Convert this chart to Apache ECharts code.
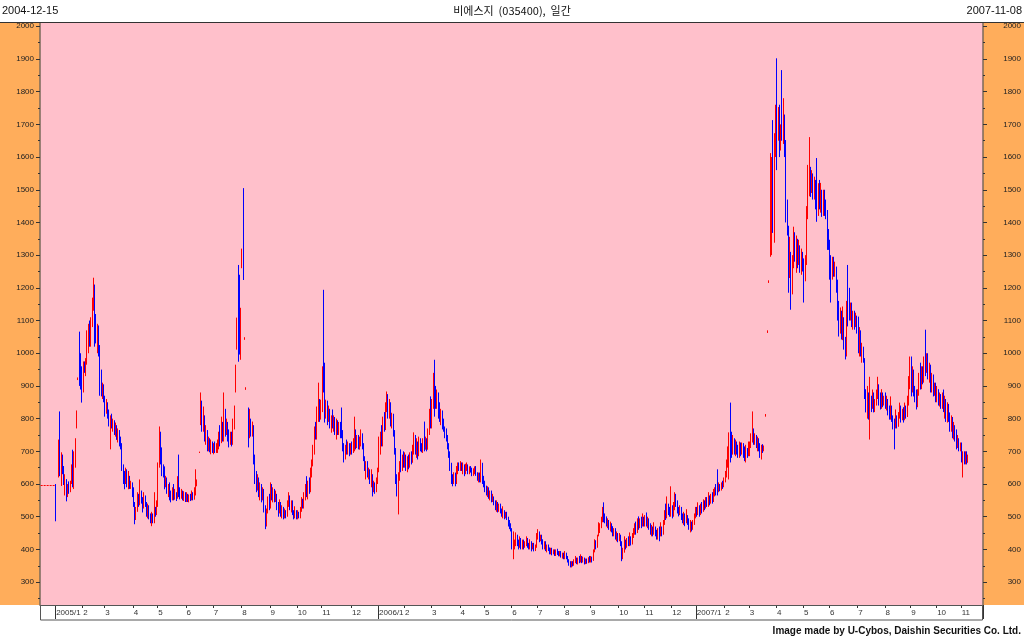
<!DOCTYPE html>
<html><head><meta charset="utf-8">
<script src="https://cdn.jsdelivr.net/npm/echarts@6/dist/echarts.min.js"></script>
<style>html,body{margin:0;padding:0;background:#fff}#c{width:1024px;height:638px}</style>
</head><body><div id="c"></div>
<script>
const chartTitle = '비에스지  (035400),  일간';
const startDate = '2004-12-15';
const endDate = '2007-11-08';
const credit = 'Image made by U-Cybos, Daishin Securities Co. Ltd.';
const basePrice = 595;

// y-axis tick values
const yMajor = [300,400,500,600,700,800,900,1000,1100,1200,1300,1400,1500,1600,1700,1800,1900,2000];
const yMinor = [250,350,450,550,650,750,850,950,1050,1150,1250,1350,1450,1550,1650,1750,1850,1950];

// month labels (first label empty = Dec 2004, before listing)
const monthLabels = ['', '2005/1','2','3','4','5','6','7','8','9','10','11','12',
  '2006/1','2','3','4','5','6','7','8','9','10','11','12',
  '2007/1','2','3','4','5','6','7','8','9','10','11'];

// daily candles: [open, close, low, high]; null = no trade
const dec04 = [null,null,null,null,null,null,null,null,null,null,null,null];
const jan05 = [[597,525,486,600],null,[625,657,620,736],[684,650,624,822],[620,690,594,697],[685,640,630,690],[640,600,597,655],[600,615,565,630],[610,575,547,615],[575,595,560,600],[595,580,570,608],[580,600,575,610],[605,654,600,660],[700,600,590,705],[600,660,585,700],[666,736,650,740],[775,820,770,825],[920,922,918,926],[975,950,900,1066],[970,950,889,1000],[950,900,849,960]];
const feb05 = [[900,960,880,975],[960,950,940,975],[945,975,930,985],[975,1030,965,1070],[1030,1080,1000,1090],[1080,1040,1020,1100],[1040,1100,1020,1110],[1100,1150,1080,1170],[1150,1200,1130,1231],[1200,1100,1020,1210],[1100,1060,1030,1120],[1060,1080,1000,1090],[1080,1020,990,1085],[1020,940,870,1025],[940,880,868,950],[880,900,860,910],[900,860,850,905]];
const mar05 = [[860,830,806,870],[830,845,815,860],[845,810,800,850],[810,790,776,828],[790,800,706,810],[800,780,770,815],[780,790,760,800],[790,760,750,795],[760,775,745,788],[775,750,735,780],[750,760,727,770],[760,730,715,765],[730,720,706,745],[720,650,640,725],[650,630,600,660],[630,610,584,640],[610,635,600,650],[635,600,590,645],[600,620,584,640],[620,595,585,625],[595,600,585,610],[600,580,560,605]];
const apr05 = [[580,540,530,590],[540,500,477,545],[500,520,490,530],[520,560,515,575],[560,540,530,570],[540,575,535,614],[575,550,540,580],[550,530,513,560],[530,560,525,575],[560,540,530,565],[540,510,500,545],[510,530,495,540],[530,500,492,535],[500,490,480,510],[490,505,471,515],[505,490,480,510],[490,520,480,575],[520,510,500,530],[510,540,505,550]];
const may05 = [[540,660,530,666],[660,740,650,776],[740,680,660,760],[680,650,624,712],[650,630,620,660],[630,600,584,654],[600,615,590,625],[615,580,570,620],[580,590,560,600],[590,570,550,605],[570,560,544,580],[560,580,550,590],[580,565,550,600],[565,570,552,585],[570,560,548,575],[560,600,555,624],[600,580,560,690],[580,560,553,590],[560,575,555,585],[575,560,550,580],[560,570,548,578],[570,555,545,575]];
const jun05 = [[555,565,545,575],[565,550,545,570],[550,560,544,568],[560,555,548,570],[555,570,550,580],[570,560,550,575],[560,575,552,590],[575,600,565,645],[600,610,593,614],null,[696,697,695,699],[790,860,780,880],[850,780,760,855],[780,800,760,837],[800,750,730,810],[750,760,720,780],[760,720,700,765],[720,730,700,745],[730,710,697,740],[710,720,691,736],[720,705,695,730]];
const jul05 = [[705,715,691,725],[715,700,695,730],[700,712,695,725],[700,720,695,736],[720,740,706,760],[740,730,715,780],[730,770,725,806],[770,740,730,790],[740,800,730,880],[800,760,745,830],[760,780,750,800],[780,740,730,790],[740,730,712,767],[730,750,720,760],[750,725,715,760],[725,780,720,800],[780,837,767,840],[880,965,880,965],[1011,1109,1011,1109],[1240,1000,974,1270],[1100,1020,996,1240],[980,1130,980,1139]];
const aug05 = [[1264,1310,1260,1320],[1320,1224,1224,1505],[1043,1045,1041,1049],[890,892,888,896],null,[800,760,712,834],[760,790,740,830],[790,760,745,800],[760,770,745,791],[770,680,660,780],[680,620,600,690],[620,600,575,640],[600,610,580,630],[610,580,560,620],[580,595,550,605],[595,570,544,600],[570,580,550,590],[580,530,513,585],[530,500,462,535],[500,520,470,525],[520,560,510,562],[560,530,520,570]];
const sep05 = [[530,580,525,605],[580,560,550,600],[560,575,544,590],[575,550,544,585],[550,565,545,580],[565,530,520,570],[530,520,500,545],[520,540,510,553],[540,510,500,545],[510,525,495,535],[525,500,492,530],[500,515,495,525],[515,505,495,520],[505,540,500,550],[540,560,530,575],[560,530,520,565],[530,545,513,550],[545,510,505,550],[510,500,492,520],[500,515,495,532],[515,500,492,520]];
const oct05 = [[500,510,492,520],[510,500,495,515],[500,520,495,530],[520,545,515,560],[545,530,525,555],[530,560,525,575],[560,590,550,600],[590,570,560,624],[570,600,553,610],[600,580,570,620],[580,630,575,650],[630,660,620,675],[660,700,654,720],[700,760,690,776],[760,740,736,790],[740,800,736,837],[800,850,790,910],[850,800,790,860],[800,830,797,858]];
const nov05 = [[830,950,820,960],[960,900,880,1194],[920,830,788,971],[830,850,800,858],[850,800,780,855],[800,820,790,840],[820,790,770,830],[790,800,757,810],[800,780,770,828],[780,800,760,810],[800,770,750,805],[770,790,736,800],[790,760,750,795],[760,780,750,790],[780,750,740,790],[800,760,740,834],[760,720,700,765],[720,680,666,725],[680,710,675,720],[710,700,690,736],[700,720,690,730],[720,700,685,725],[700,715,690,725]];
const dec05 = [[715,700,690,730],[700,730,695,740],[730,740,700,806],[740,720,706,767],[720,740,710,750],[740,710,706,750],[710,730,705,745],[730,745,715,767],[745,720,706,755],[720,680,670,725],[680,650,640,685],[650,660,614,670],[660,630,620,670],[630,640,614,650],[640,610,600,645],[610,625,590,645],[625,590,562,630],[590,600,575,610],[600,580,570,605],[580,610,575,620],[610,640,600,650]];
const jan06 = [[640,700,636,745],[700,740,690,760],[740,720,715,780],[720,790,715,806],[790,770,760,820],[770,830,765,850],[830,860,820,883],[860,820,800,875],[820,840,800,860],[840,790,776,850],[790,810,770,818],[810,760,745,815],[760,700,690,765],[700,620,600,710],[620,580,562,630],[580,620,507,636],[620,660,610,670],[660,650,636,706],[650,680,640,690],[680,660,650,700]];
const feb06 = [[660,680,650,697],[680,650,640,690],[650,670,636,685],[670,660,645,690],[660,690,650,697],[690,670,660,700],[670,700,665,720],[700,740,690,758],[740,700,690,750],[700,720,680,740],[720,690,675,730],[690,730,685,745],[730,710,700,740],[710,700,697,725],[700,720,695,740],[740,720,700,791],[720,730,705,745],[730,710,700,740],[710,760,705,770],[760,810,750,830],[810,780,770,868]];
const mar06 = [[780,840,770,860],[840,900,830,940],[900,880,806,980],[880,850,830,900],[850,870,830,889],[870,830,800,880],[830,800,790,850],[800,820,780,830],[820,790,767,825],[790,770,760,800],[770,760,740,776],[760,740,730,770],[740,720,706,750],[720,690,680,725],[690,660,640,700],[660,620,600,665],[620,610,593,630],[610,630,600,636],[630,605,593,635],[605,640,600,655],[640,660,630,666],[660,645,640,666]];
const apr06 = [[645,660,640,670],[660,650,640,666],[650,655,630,666],[655,640,624,660],[640,650,630,662],[650,655,640,666],[655,640,630,660],[640,650,630,654],[650,645,635,655],[645,630,624,650],[630,640,625,648],[640,650,630,654],[650,630,625,655],[630,620,610,636],[620,630,605,635],[630,610,605,635],[610,660,605,675],[660,620,600,665],[620,600,590,625]];
const may06 = [[600,590,575,610],[590,575,565,595],[575,585,560,593],[585,565,555,590],[565,575,550,580],[575,555,544,580],[555,560,545,570],[560,545,535,562],[545,530,520,550],[530,540,515,550],[540,525,513,545],[525,535,515,540],[535,520,510,540],[520,510,500,525],[510,515,495,532],[515,505,492,520],[505,510,495,515],[510,495,490,515],[495,480,470,500],[480,470,462,490],[470,460,455,480]];
const jun06 = [[460,410,400,465],[405,410,370,455],[410,420,400,430],[420,440,410,452],[440,420,410,445],[420,410,400,430],[410,430,405,440],[430,415,400,435],[415,425,400,430],[425,410,400,430],[410,420,405,425],[420,430,410,440],[430,415,405,435],[415,410,400,420],[410,420,400,431],[420,405,394,425],[405,415,400,420],[415,400,394,420],[400,410,395,415],[410,440,405,450]];
const jul06 = [[440,450,430,462],[450,430,422,455],[430,440,425,445],[440,425,415,445],[425,410,400,431],[410,420,400,425],[420,405,395,425],[405,410,391,415],[410,400,395,415],[400,395,385,406],[395,400,385,405],[400,390,382,405],[390,395,385,400],[395,385,380,400],[385,395,380,400],[395,390,383,402],[390,385,379,395],[385,390,379,395],[390,380,375,395],[380,385,372,390],[385,375,370,390]];
const aug06 = [[375,385,370,395],[385,375,370,390],[375,365,360,380],[365,355,350,370],[355,350,345,364],[350,360,345,364],[360,355,348,364],[355,365,350,370],[365,370,358,380],[370,360,355,375],[360,370,354,375],[370,365,358,380],[365,375,360,385],[375,365,358,380],[365,370,360,378],[370,360,354,375],[360,368,355,372],[368,362,356,372],[362,370,358,376],[370,365,360,380]];
const sep06 = [[365,372,360,380],[372,368,360,378],[368,395,365,400],[395,420,391,431],[420,410,400,428],[410,440,405,445],[440,460,440,483],[460,470,450,480],[470,490,465,500],[490,520,483,530],[520,500,483,544],[500,490,480,510],[490,480,470,501],[480,485,465,495],[485,470,460,490],[470,475,455,485],[475,460,452,480],[460,450,440,471],[450,460,440,465],[460,440,430,465],[440,445,425,455],[445,430,422,450]];
const oct06 = [[430,440,425,450],[440,420,410,445],[420,380,364,425],[380,400,370,405],[400,420,390,440],[420,410,400,430],[410,425,405,435],[425,415,410,440],[415,430,410,452],[430,420,412,440],[420,440,415,450],[440,455,435,465],[455,470,445,480],[470,455,445,485],[455,480,450,495],[480,470,460,501],[470,485,465,495],[485,475,465,500],[475,490,470,510],[490,480,470,500]];
const nov06 = [[480,495,470,505],[495,480,470,513],[480,490,465,500],[490,470,460,495],[470,455,445,480],[455,465,440,475],[465,450,440,470],[450,465,445,483],[465,450,440,470],[450,440,430,460],[440,455,430,465],[455,445,425,470],[445,460,440,483],[460,450,440,470],[450,480,445,490],[480,510,475,520],[510,500,490,540],[500,530,495,562],[530,520,505,540],[520,510,500,530],[510,525,500,593]];
const dec06 = [[525,510,495,535],[510,530,500,545],[530,560,520,575],[560,540,530,570],[540,520,510,550],[520,510,501,530],[510,525,505,535],[525,500,490,530],[500,490,480,510],[490,505,475,515],[505,490,471,510],[490,500,480,523],[500,485,475,505],[485,470,460,495],[470,480,452,490],[480,465,455,485],[465,480,460,490],[480,500,475,510],[500,520,495,530]];
const jan07 = [[520,510,500,530],[510,525,505,544],[525,515,500,535],[515,530,505,540],[530,520,510,545],[520,540,515,553],[540,530,520,550],[530,550,525,560],[550,540,530,560],[540,555,530,575],[555,545,535,565],[545,560,540,570],[560,550,540,575],[550,570,545,585],[570,580,562,590],[580,570,565,600],[600,580,565,645],[580,595,575,605],[595,585,578,600],[585,600,580,605],[600,595,585,610],[595,610,590,620]];
const feb07 = [[610,630,605,640],[630,660,620,675],[660,700,650,715],[650,740,614,758],[760,720,666,849],[720,700,680,760],[700,730,690,750],[730,700,690,740],[700,715,685,736],[715,700,690,730],[700,690,680,720],[690,710,680,730],[710,695,685,727],[695,720,690,727],[720,700,680,725],[700,690,670,715],[690,700,666,720],[700,690,680,710],[690,720,685,730]];
const mar07 = [[690,720,685,730],[720,745,710,755],[745,760,727,822],[760,730,720,770],[730,745,720,755],[745,720,710,750],[720,730,700,745],[730,715,700,740],[715,700,680,725],[700,715,675,720],[715,705,695,722],[705,712,700,718],[806,810,806,814],null,[1064,1066,1062,1070],[1217,1219,1215,1223],[1300,1560,1295,1612],[1350,1500,1300,1600],[1600,1400,1368,1713],[1420,1650,1338,1673],[1650,1720,1600,1760]];
const apr07 = [[1780,1700,1560,1902],[1700,1720,1650,1753],[1720,1650,1600,1760],[1650,1680,1620,1700],[1820,1700,1650,1866],[1700,1720,1640,1780],[1720,1620,1600,1730],[1620,1450,1400,1652],[1450,1380,1360,1470],[1380,1250,1185,1390],[1250,1300,1230,1356],[1300,1200,1133,1310],[1200,1280,1180,1300],[1280,1350,1260,1387],[1350,1300,1280,1370],[1300,1340,1246,1360],[1340,1280,1260,1350],[1280,1320,1270,1347],[1320,1260,1246,1330],[1260,1300,1240,1320],[1300,1260,1250,1310]];
const may07 = [[1260,1240,1155,1290],[1240,1280,1220,1300],[1280,1420,1270,1450],[1420,1540,1410,1576],[1500,1550,1480,1661],[1550,1500,1478,1570],[1500,1540,1490,1560],[1540,1490,1470,1550],[1490,1520,1470,1540],[1520,1470,1440,1530],[1560,1450,1402,1597],[1450,1500,1420,1520],[1500,1460,1440,1530],[1460,1490,1430,1521],[1490,1440,1417,1500],[1440,1480,1420,1500],[1480,1450,1420,1500],[1450,1420,1410,1470],[1420,1360,1316,1438],[1360,1330,1316,1380]];
const jun07 = [[1330,1280,1225,1347],[1280,1240,1155,1300],[1240,1270,1225,1295],[1270,1250,1234,1295],[1250,1260,1234,1280],[1260,1200,1185,1265],[1200,1150,1100,1225],[1150,1080,1051,1160],[1080,1120,1060,1140],[1120,1060,1042,1130],[1060,1100,1040,1143],[1100,1030,1011,1110],[1030,1000,981,1050],[1000,1150,990,1160],[1240,1180,1082,1270],[1180,1120,1100,1200],[1120,1140,1100,1155],[1140,1100,1080,1155],[1100,1120,1072,1130],[1120,1090,1072,1130],[1090,1110,1080,1124],[1110,1080,1060,1115]];
const jul07 = [[1080,1050,1000,1112],[1050,1060,990,1080],[1060,1000,990,1070],[1000,1010,971,1032],[1010,980,971,1020],[980,880,860,985],[880,830,819,890],[830,870,800,900],[870,820,797,880],[820,860,736,928],[860,840,820,870],[840,870,830,889],[870,830,819,880],[830,850,820,860],[850,870,840,889],[870,900,860,928],[900,860,840,905],[860,840,828,880],[840,870,830,890],[870,850,835,880],[850,860,840,870]];
const aug07 = [[860,840,830,880],[840,850,825,870],[850,820,810,860],[820,800,797,840],[800,830,797,868],[830,800,790,840],[800,780,767,810],[790,780,706,800],[780,800,770,828],[800,780,770,810],[780,810,775,820],[810,830,800,849],[830,800,788,840],[800,820,795,830],[820,800,788,835],[800,830,795,849],[830,810,800,840],[810,850,805,870],[850,900,840,930],[900,950,890,990]];
const sep07 = [[950,900,868,990],[900,940,880,960],[940,890,868,950],[890,860,850,900],[860,840,828,889],[840,880,835,890],[880,920,870,940],[920,900,889,971],[900,940,890,960],[940,920,905,960],[920,960,910,990],[990,950,930,1072],[950,990,940,1000],[990,940,920,1000],[940,960,910,971],[960,900,880,965],[900,930,880,940],[930,890,868,935],[890,900,870,910],[900,870,850,910]];
const oct07 = [[870,880,850,900],[880,850,840,890],[850,870,837,880],[870,840,830,875],[840,860,830,880],[860,830,820,889],[830,850,800,870],[850,810,790,860],[810,830,788,850],[830,800,790,845],[800,780,760,819],[780,800,760,810],[800,760,740,805],[760,770,736,790],[770,740,730,780],[740,720,706,767],[720,735,710,750],[735,710,700,740],[710,720,700,727]];
const nov07 = [[720,690,666,727],[660,690,620,700],[690,670,660,700],[670,690,660,700],[690,670,660,700],[670,680,665,690]];
const trailing = [null,null,null,null,null,null,null,null,null,null,null]; // empty slots after 2007-11-08

const months = [dec04,jan05,feb05,mar05,apr05,may05,jun05,jul05,aug05,sep05,oct05,nov05,dec05,
  jan06,feb06,mar06,apr06,may06,jun06,jul06,aug06,sep06,oct06,nov06,dec06,
  jan07,feb07,mar07,apr07,may07,jun07,jul07,aug07,sep07,oct07,nov07];

const cats = [], ohlc = [], labelAt = {};
months.forEach((arr, m) => {
  arr.forEach((d, k) => {
    const idx = cats.length;
    cats.push(m + '-' + k);
    if (k === 0 && monthLabels[m]) labelAt[idx] = monthLabels[m];
    ohlc.push(d ? d : ['-','-','-','-']);
  });
});
trailing.forEach((d, k) => { cats.push('t-' + k); ohlc.push(['-','-','-','-']); });

const isMonth = (i) => labelAt[i] !== undefined;
const isYear = (i) => labelAt[i] !== undefined && labelAt[i].indexOf('/') >= 0;

const FONT = 'Liberation Sans, Arial, sans-serif';
const yMin = 230, yMax = 2010;
const ax = '#7a6a5a';
const plain = (v) => String(v);

const chart = echarts.init(document.getElementById('c'), null, {renderer: 'canvas'});
chart.setOption({
  animation: false,
  backgroundColor: '#ffffff',
  grid: {left: 40, right: 41, top: 23, bottom: 33, show: true, backgroundColor: '#ffc0cb', borderWidth: 0},
  xAxis: [{
    type: 'category', data: cats, position: 'bottom', boundaryGap: true,
    axisLine: {show: true, lineStyle: {color: '#777', width: 1}},
    axisTick: {show: true, interval: (i) => isMonth(i) && !isYear(i), length: 3, lineStyle: {color: '#333'}},
    axisLabel: {interval: (i) => isMonth(i), formatter: (v, i) => labelAt[i] || '', align: 'left', margin: 4,
      fontSize: 8, fontFamily: FONT, color: '#333'},
    splitLine: {show: false}
  }, {
    type: 'category', data: cats, position: 'bottom', boundaryGap: true,
    axisLine: {show: false},
    axisTick: {show: true, interval: (i) => isYear(i), length: 14, lineStyle: {color: '#333'}},
    axisLabel: {show: false}, splitLine: {show: false}
  }],
  yAxis: [{
    type: 'value', position: 'left', min: yMin, max: yMax,
    axisLine: {show: true, lineStyle: {color: ax, width: 1.5}},
    axisTick: {show: true, customValues: yMajor, length: 4, lineStyle: {color: '#333'}},
    axisLabel: {customValues: yMajor, formatter: plain, margin: 6, fontSize: 8, fontFamily: FONT, color: '#222'},
    splitLine: {show: false}
  }, {
    type: 'value', position: 'left', min: yMin, max: yMax,
    axisLine: {show: false},
    axisTick: {show: true, customValues: yMinor, length: 2, lineStyle: {color: '#333'}},
    axisLabel: {show: false}, splitLine: {show: false}
  }, {
    type: 'value', position: 'right', min: yMin, max: yMax,
    axisLine: {show: true, lineStyle: {color: ax, width: 1.5}},
    axisTick: {show: true, customValues: yMajor, length: 4, lineStyle: {color: '#333'}},
    axisLabel: {customValues: yMajor, formatter: plain, margin: 38, align: 'right', fontSize: 8, fontFamily: FONT, color: '#222'},
    splitLine: {show: false}
  }, {
    type: 'value', position: 'right', min: yMin, max: yMax,
    axisLine: {show: false},
    axisTick: {show: true, customValues: yMinor, length: 2, lineStyle: {color: '#333'}},
    axisLabel: {show: false}, splitLine: {show: false}
  }],
  series: [{
    type: 'candlestick', xAxisIndex: 0, yAxisIndex: 0, data: ohlc, large: false,
    barWidth: 1.3,
    itemStyle: {color: '#ff0000', color0: '#0000ff', borderColor: '#ff0000', borderColor0: '#0000ff', borderWidth: 1},
    markLine: {
      silent: true, symbol: 'none', label: {show: false},
      lineStyle: {color: '#ff0000', type: [2, 1], width: 1},
      data: [[{xAxis: cats[0], yAxis: basePrice}, {xAxis: cats[dec04.length - 1], yAxis: basePrice}]]
    }
  }],
  graphic: [
    {type: 'rect', z: -10, shape: {x: 0, y: 23, width: 40, height: 582}, style: {fill: '#ffad5b'}},
    {type: 'rect', z: -10, shape: {x: 983, y: 23, width: 41, height: 582}, style: {fill: '#ffad5b'}},
    {type: 'line', z: 10, shape: {x1: 0, y1: 22.5, x2: 1024, y2: 22.5}, style: {stroke: '#333', lineWidth: 1}},
    {type: 'rect', z: 10, shape: {x: 40.5, y: 605.5, width: 942, height: 14.5}, style: {fill: 'none', stroke: '#555', lineWidth: 1}},
    {type: 'text', z: 10, x: 2, y: 11, style: {text: startDate, fontSize: 11, fontFamily: FONT, fill: '#111', verticalAlign: 'middle'}},
    {type: 'text', z: 10, x: 512, y: 11, style: {text: chartTitle, fontSize: 11, fontFamily: 'Noto Sans CJK KR, sans-serif', fill: '#111', align: 'center', verticalAlign: 'middle'}},
    {type: 'text', z: 10, x: 1022, y: 11, style: {text: endDate, fontSize: 11, fontFamily: FONT, fill: '#111', align: 'right', verticalAlign: 'middle'}},
    {type: 'text', z: 10, x: 1021, y: 631, style: {text: credit, fontSize: 10, fontWeight: 'bold', fontFamily: FONT, fill: '#111', align: 'right', verticalAlign: 'middle'}}
  ]
});
</script></body></html>
